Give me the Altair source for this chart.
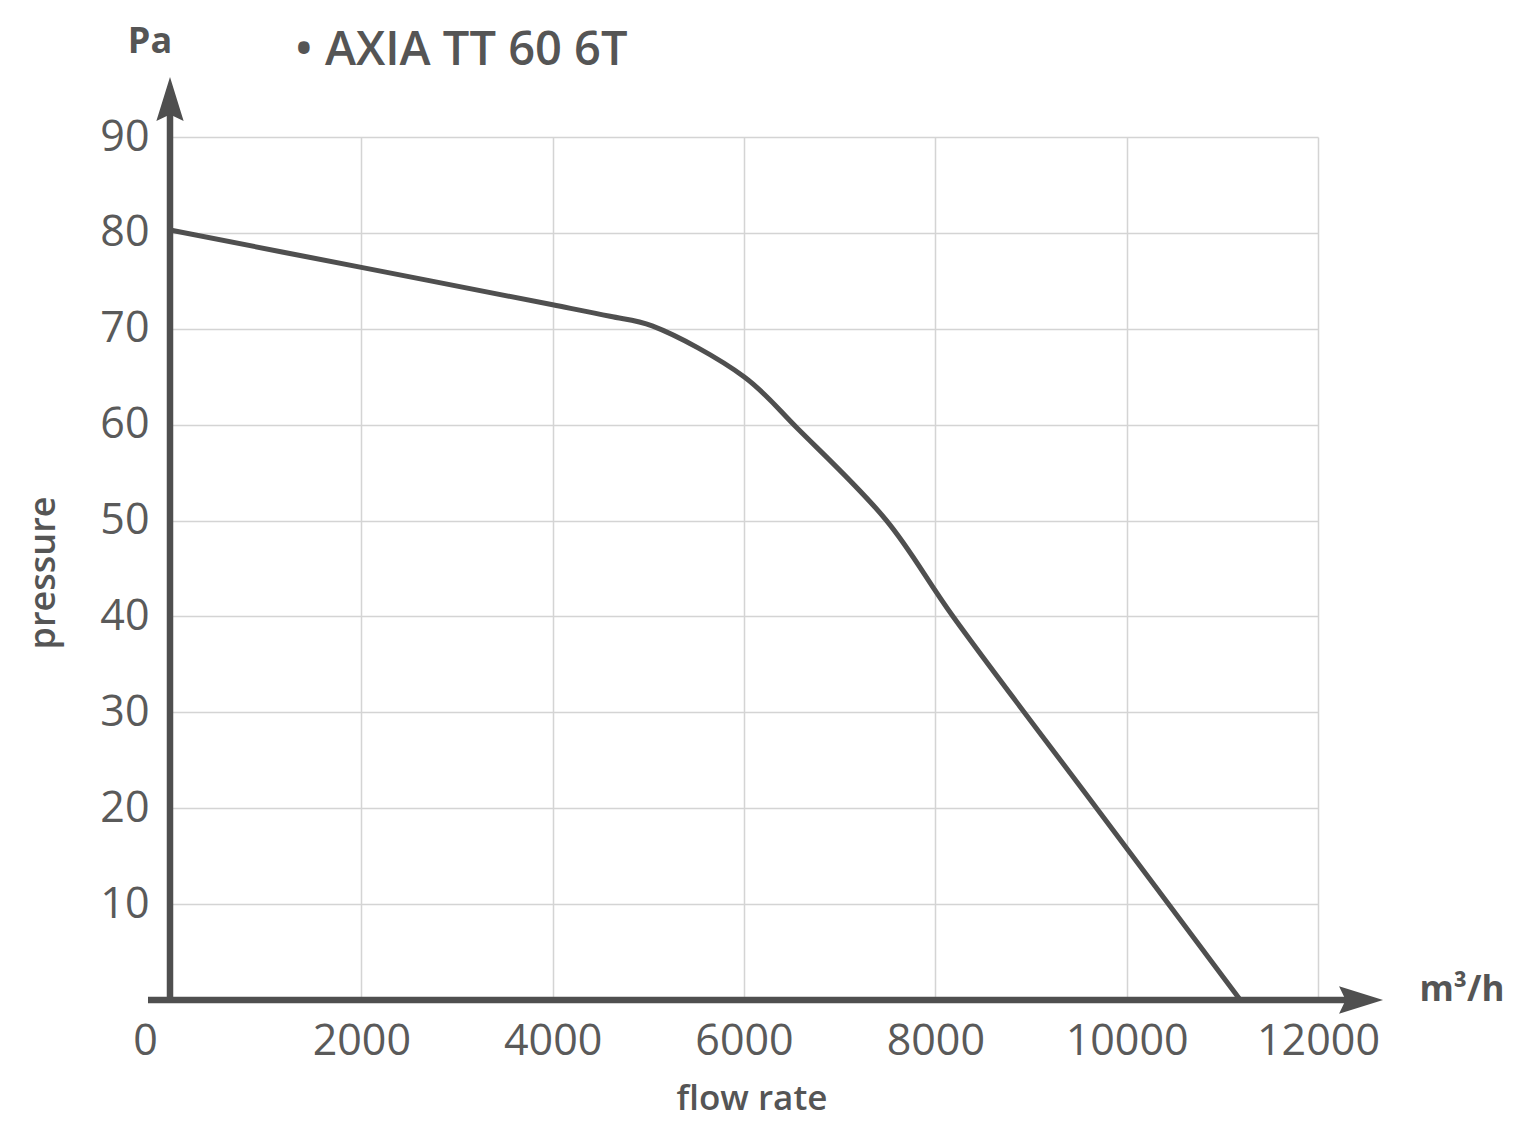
import altair as alt
import pandas as pd

# curve data (flow rate m3/h, pressure Pa)
flow = [0, 2000, 4000, 4600, 5040, 6000, 6560, 7490, 8185, 9686, 11188]
pressure = [80.3, 76.4, 72.5, 71.3, 70.3, 65.0, 59.6, 50.0, 40.0, 20.0, 0.0]

x_ticks = [0, 2000, 4000, 6000, 8000, 10000, 12000]
y_ticks = [10, 20, 30, 40, 50, 60, 70, 80, 90]

series_name = "• AXIA TT 60 6T"

FONT = "Open Sans"
DARK = "#4f4f4f"
GRID = "#d4d4d4"

curve = pd.DataFrame({"flow": flow, "pressure": pressure})

xscale = alt.Scale(domain=[0, 12000], nice=False, zero=False)
yscale = alt.Scale(domain=[0, 90], nice=False, zero=False)

x_axis = alt.Axis(
    values=x_ticks, format="d", grid=True, gridColor=GRID, gridWidth=1.5, domain=False, ticks=False,
    labelFont=FONT, labelFontSize=43, labelColor="#5a5a5a", labelPadding=20,
    labelOffset={"condition": {"test": "datum.value === 0", "value": -25}, "value": 0},
    title=None, labelFlush=False,
)
y_axis = alt.Axis(
    values=y_ticks, format="d", grid=True, gridColor=GRID, gridWidth=1.5, domain=False, ticks=False,
    labelFont=FONT, labelFontSize=43, labelColor="#5a5a5a", labelPadding=21,
    title=None, labelFlush=False,
)

line = alt.Chart(curve).mark_line(
    color=DARK, strokeWidth=5, interpolate="catmull-rom"
).encode(
    x=alt.X("flow:Q", scale=xscale, axis=x_axis),
    y=alt.Y("pressure:Q", scale=yscale, axis=y_axis),
)

# axis lines
axes_df = pd.DataFrame({
    "x": [0, -230], "x2": [0, 12400], "y": [-0.23, 0], "y2": [93.5, 0]
})
axis_rules = alt.Chart(axes_df).mark_rule(color=DARK, strokeWidth=6.5).encode(
    x=alt.X("x:Q", scale=xscale), x2="x2:Q",
    y=alt.Y("y:Q", scale=yscale), y2="y2:Q",
)

arrow_path = "M0,-1 L0.62,1 L0,0.7 L-0.62,1 Z"
arrows_df = pd.DataFrame({"x": [0, 12450], "y": [93.96, 0], "ang": [0, 90]})
arrows = alt.Chart(arrows_df).mark_point(
    shape=arrow_path, filled=True, color=DARK, size=1936, opacity=1, strokeWidth=0
).encode(
    x=alt.X("x:Q", scale=xscale), y=alt.Y("y:Q", scale=yscale),
    angle=alt.Angle("ang:Q", scale=None),
)

def label(text, x, y, size, weight="normal", align="center", angle=0, color="#555555"):
    kw = dict(text=text, font=FONT, fontSize=size, fontWeight=weight, align=align,
              baseline="middle", color=color)
    if angle:
        kw["angle"] = angle
    return alt.Chart(pd.DataFrame({"a": [0]})).mark_text(**kw).encode(
        x=alt.value(x), y=alt.value(y)
    )

labels = [
    label("Pa", -20, -95, 36, "bold"),
    label(series_name, 125, -86, 47, 600, align="left"),
    label("pressure", -126, 436, 36, 600, angle=270),
    label("flow rate", 582, 962, 35, 600),
    label("m³/h", 1292, 853, 35, "bold"),
]

chart = alt.layer(line, axis_rules, arrows, *labels).properties(
    width=1148, height=863,
    autosize=alt.AutoSizeParams(type="none"),
    padding={"left": 162, "top": 129, "right": 200, "bottom": 122},
).configure_view(stroke=None)

chart.save("out.html", embed_options={"renderer": "svg", "actions": False})
